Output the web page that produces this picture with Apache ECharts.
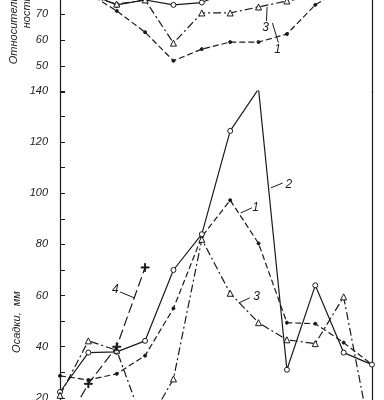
<!DOCTYPE html>
<html><head><meta charset="utf-8">
<script src="https://cdn.jsdelivr.net/npm/echarts@6/dist/echarts.min.js"></script>
<style>html,body{margin:0;padding:0;background:#fff}#c{width:384px;height:400px}</style>
</head><body><div id="c"></div>
<script>
// months (x)
const months = [1,2,3,4,5,6,7,8,9,10,11,12];
// relative humidity, % (upper panel)
const rh1 = [80, 78, 71.2, 63, 52, 56.5, 59.2, 59.2, 62.3, 73.5, 80, 82];
const rh2 = [80, 78, 73.5, 75.4, 73.5, 74.4, 79, 81, 82, 83, 84, 85];
const rh3 = [80, 77, 73.8, 75.4, 58.8, 70.4, 70.4, 72.7, 75, 77, 80, 82];
// precipitation, mm (lower panel)
const pr1 = [28.6, 27, 29.4, 36.5, 55, 83, 97.3, 80.4, 49.4, 49, 41.6, 33];
const pr2 = [22.3, 37.7, 38, 42.3, 70, 84, 124.4, 140.8, 31, 64, 37.7, 33];
const pr3 = [21, 42.3, 38.6, 8, 27.4, 82, 60.9, 49.4, 42.7, 41.2, 59.5, 2];
const pr4 = [6, 25.5, 40, 71, null, null, null, null, null, null, null, null];
// tick labels
const rhTicks = [50, 60, 70, 80];
const prTicks = [20, 40, 60, 80, 100, 120, 140];
// annotation numbers
const curveNames = ['1', '2', '3', '4'];

const pairs = arr => months.map((m, i) => [m, arr[i]]);
const INK = '#1a1a1a';
const plusPath = 'path://M4.4,0H5.6V4.4H10V5.6H5.6V10H4.4V5.6H0V4.4H4.4Z';

const styles = {
  '1': {type: [6, 3], symbol: 'circle', size: 3, fill: INK},
  '2': {type: 'solid', symbol: 'circle', size: 5, fill: '#fff'},
  '3': {type: [8, 3, 2, 3], symbol: 'triangle', size: 6, fill: '#fff'},
  '4': {type: [10, 4], symbol: plusPath, size: 8, fill: INK}
};
function mk(name, data, xi, yi) {
  const s = styles[name];
  return {
    type: 'line', name: name, xAxisIndex: xi, yAxisIndex: yi,
    data: pairs(data), connectNulls: false,
    symbol: s.symbol, symbolSize: s.size, showSymbol: true,
    lineStyle: {color: INK, width: 1.2, type: s.type},
    itemStyle: {color: s.fill, borderColor: INK, borderWidth: 1},
    animation: false, z: 3
  };
}
const labelFont = {fontFamily: 'Liberation Sans', fontStyle: 'italic', fontSize: 11, color: '#222'};

function yAx(gi, min, max, ticks, left) {
  return {
    type: 'value', gridIndex: gi, min: min, max: max, interval: 10,
    position: left ? 'left' : 'right',
    axisLine: {show: true, lineStyle: {color: INK, width: 1.2}},
    axisTick: {show: left, inside: true, length: 5, lineStyle: {color: INK, width: 1}},
    axisLabel: Object.assign({show: left, margin: 12,
      formatter: v => ticks.indexOf(v) >= 0 ? String(v) : ''}, labelFont),
    splitLine: {show: false}
  };
}
function xAx(gi) {
  return {type: 'value', gridIndex: gi, min: 1, max: 12, show: false, splitLine: {show: false}};
}

const chart = echarts.init(document.getElementById('c'), null, {renderer: 'canvas'});
chart.setOption({
  backgroundColor: '#fff',
  animation: false,
  grid: [
    {left: 60, width: 312, top: -25, height: 117, containLabel: false, outerBoundsMode: 'none'},
    {left: 60, width: 312, top: 91, height: 358, containLabel: false, outerBoundsMode: 'none'}
  ],
  xAxis: [xAx(0), xAx(1)],
  yAxis: [
    yAx(0, 40, 85, rhTicks, true), yAx(0, 40, 85, [], false),
    yAx(1, 0, 140, prTicks, true), yAx(1, 0, 140, [], false)
  ],
  series: [
    mk('1', rh1, 0, 0), mk('2', rh2, 0, 0), mk('3', rh3, 0, 0),
    mk('1', pr1, 1, 2), mk('2', pr2, 1, 2), mk('3', pr3, 1, 2), mk('4', pr4, 1, 2)
  ]
});

// annotations placed in data coordinates: [name, grid, textPos, leaderFrom, leaderTo]
const notes = [
  [curveNames[2], 0, [8.25, 64.6], [8.3, 72.7], [8.28, 67.3]],
  [curveNames[0], 0, [8.67, 56.3], [8.49, 66.5], [8.70, 59.0]],
  [curveNames[1], 1, [9.07, 103.3], [8.43, 102.1], [8.85, 104]],
  [curveNames[0], 1, [7.9, 94.3], [7.37, 92.3], [7.76, 94.3]],
  [curveNames[2], 1, [7.93, 59.5], [7.3, 57.1], [7.69, 59.1]],
  [curveNames[3], 1, [2.95, 62.2], [3.12, 61.4], [3.62, 59.1]]
];
const g = [];
notes.forEach(n => {
  const f = {gridIndex: n[1]};
  const t = chart.convertToPixel(f, n[2]);
  const a = chart.convertToPixel(f, n[3]);
  const b = chart.convertToPixel(f, n[4]);
  g.push({type: 'line', shape: {x1: a[0], y1: a[1], x2: b[0], y2: b[1]},
    style: {stroke: INK, lineWidth: 1}, silent: true});
  g.push({type: 'text', x: t[0], y: t[1],
    style: {text: n[0], font: 'italic 12px "Liberation Sans"', fill: INK,
      textAlign: 'center', textVerticalAlign: 'middle'}, silent: true});
});
// axis titles
g.push({type: 'text', x: 14, y: 5, rotation: Math.PI / 2,
  style: {text: 'Относительная влаж-', font: 'italic 11px "Liberation Sans"', fill: INK,
    textAlign: 'center', textVerticalAlign: 'middle'}});
g.push({type: 'text', x: 27, y: 4, rotation: Math.PI / 2,
  style: {text: 'ность, %', font: 'italic 11px "Liberation Sans"', fill: INK,
    textAlign: 'center', textVerticalAlign: 'middle'}});
g.push({type: 'text', x: 17, y: 322, rotation: Math.PI / 2,
  style: {text: 'Осадки,  мм', font: 'italic 11px "Liberation Sans"', fill: INK,
    textAlign: 'center', textVerticalAlign: 'middle'}});
chart.setOption({graphic: g});
</script></body></html>
